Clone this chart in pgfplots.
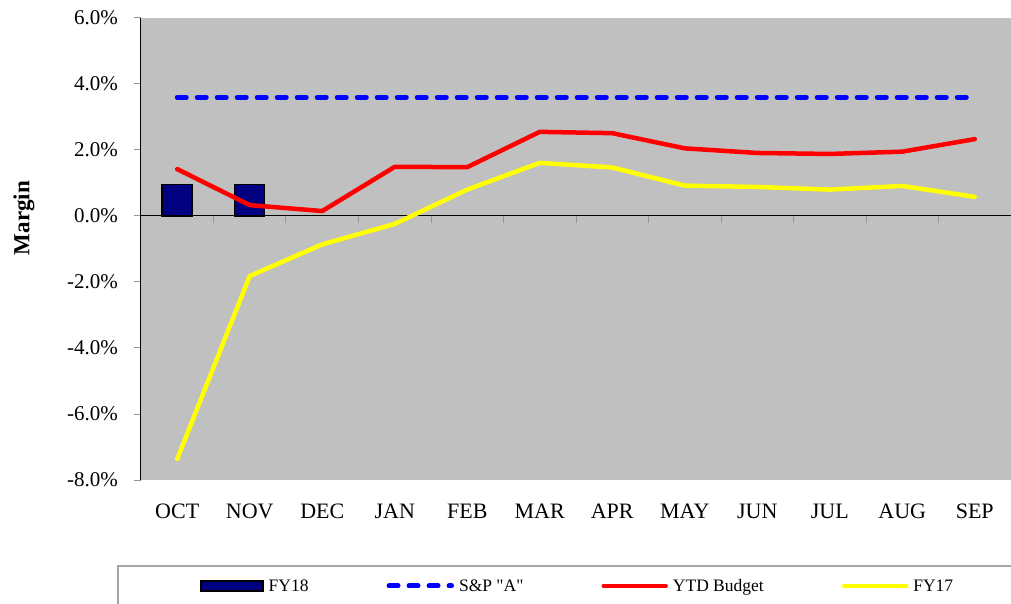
\documentclass[border=0pt]{standalone}
\usepackage{pgfplots}
\pgfplotsset{compat=1.18}
\usepackage{fontspec}
\setmainfont{Liberation Serif}[Ligatures=TeXOff]
\definecolor{plotbg}{RGB}{192,192,192}
\definecolor{fy18}{RGB}{0,0,128}
\definecolor{spblue}{RGB}{0,0,255}
\definecolor{ytdred}{RGB}{255,0,0}
\definecolor{fy17}{RGB}{255,255,0}
\definecolor{tickgray}{RGB}{150,150,150}

\pgfplotstableread{
x ytd fy17
1 1.42 -7.36
2 0.33 -1.82
3 0.15 -0.86
4 1.49 -0.24
5 1.48 0.80
6 2.55 1.61
7 2.51 1.47
8 2.05 0.92
9 1.91 0.88
10 1.88 0.80
11 1.95 0.91
12 2.33 0.58
}\margindata

\pgfplotsset{
    barlegend/.style={legend image code/.code={\draw[fill=fy18, draw=black, line width=1.5bp] (0bp,-5bp) rectangle (62bp,5bp);}},
    splegend/.style={legend image code/.code={\draw[spblue, line width=5bp, line cap=round, dash pattern=on 9bp off 11bp] (2.5bp,0bp) -- (65bp,0bp);}},
    redlegend/.style={legend image code/.code={\draw[ytdred, line width=4.5bp, line cap=round] (2bp,0bp) -- (64bp,0bp);}},
    yellowlegend/.style={legend image code/.code={\draw[fy17, line width=4.5bp, line cap=round] (2bp,0bp) -- (64bp,0bp);}},
}

\begin{document}
\begin{tikzpicture}
\begin{axis}[
    at={(0,0)}, anchor=south west,
    scale only axis,
    width=870bp, height=462bp,
    xmin=0.5, xmax=12.5,
    ymin=-8, ymax=6,
    axis background/.style={fill=plotbg},
    separate axis lines,
    axis y line*=left,
    x axis line style={draw=none},
    y axis line style={black, line width=1bp},
    xtick={1,...,12},
    xticklabels={OCT,NOV,DEC,JAN,FEB,MAR,APR,MAY,JUN,JUL,AUG,SEP},
    x tick style={draw=none},
    xticklabel style={font=\fontsize{22bp}{26bp}\selectfont, anchor=north, inner sep=0pt, yshift=-17bp},
    ytick={-8,-6,...,6},
    y tick style={tickgray, line width=1bp},
    tick align=outside,
    major tick length=7bp,
    yticklabel={\pgfmathprintnumber[fixed, fixed zerofill, precision=1]{\tick}\%},
    /pgf/number format/assume math mode=true,
    yticklabel style={font=\fontsize{21bp}{25bp}\selectfont, anchor=east, inner sep=0pt, xshift=-16bp},
    extra y ticks={0},
    extra y tick labels={},
    extra y tick style={grid=major, major grid style={black, line width=1bp}, tick style={draw=none}},
    ylabel={\textbf{Margin}},
    every axis y label/.style={at={(axis description cs:-0.1345,0.567)}, rotate=90, anchor=center, font=\fontsize{23bp}{27bp}\selectfont},
    clip=false,
    legend columns=4,
    legend cell align=left,
    legend style={
        at={(axis description cs:0.0678,-0.2294)}, anchor=west,
        draw=none, fill=none, inner sep=0pt,
        font=\fontsize{17.5bp}{20bp}\selectfont,
        nodes={inner sep=0pt},
        /tikz/every odd column/.append style={column sep=5bp},
        /tikz/every even column/.append style={column sep=78bp},
    },
]
% FY18 bars
\addplot[ybar, bar width=30bp, fill=fy18, draw=black, line width=1.5bp, barlegend]
    coordinates {(1,0.95) (2,0.95)};
\addlegendentry{FY18}
% S&P "A"
\addplot[spblue, line width=5bp, line cap=round, dash pattern=on 9bp off 11bp, splegend]
    coordinates {(1,3.6) (2,3.6) (3,3.6) (4,3.6) (5,3.6) (6,3.6) (7,3.6) (8,3.6) (9,3.6) (10,3.6) (11,3.6) (12,3.6)};
\addlegendentry{S\&P "A"}
% YTD Budget
\addplot[ytdred, line width=4.5bp, line cap=round, line join=round, redlegend]
    table[x=x, y=ytd] {\margindata};
\addlegendentry{YTD Budget}
% FY17
\addplot[fy17, line width=4.5bp, line cap=round, line join=round, yellowlegend]
    table[x=x, y=fy17] {\margindata};
\addlegendentry{FY17}
% small ticks on the zero line between months
\pgfplotsinvokeforeach{1.5,2.5,...,11.5}{
    \draw[tickgray, line width=1bp] (axis cs:#1,0) -- ([yshift=-7bp]axis cs:#1,0);
}
\end{axis}
\draw[gray!70, line width=1.2bp] (-23bp,-86bp) rectangle (880bp,-140bp);
\pgfresetboundingbox
\path[use as bounding box] (-141bp,-124bp) rectangle (870bp,480bp);
\end{tikzpicture}
\end{document}
